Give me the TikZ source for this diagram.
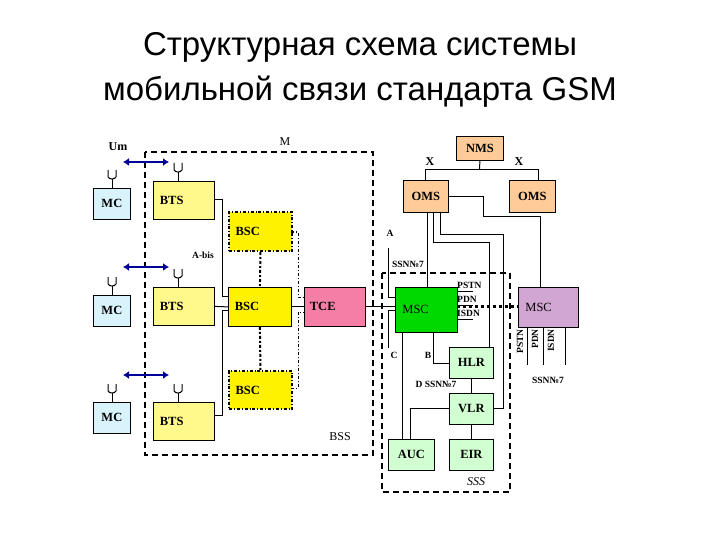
\documentclass[tikz,border=0pt]{standalone}
\usepackage{fontspec}
\usetikzlibrary{arrows.meta}
\setmainfont{Liberation Sans}
\newfontfamily\dserif{Liberation Serif}
\begin{document}
\begin{tikzpicture}[x=1pt,y=-1pt,
 box/.style={draw,line width=0.8pt,inner sep=0pt,font=\dserif\bfseries\fontsize{12.5}{14}\selectfont},
 lab/.style={font=\dserif\bfseries\fontsize{9.5}{11}\selectfont,inner sep=1pt},
 bigl/.style={font=\dserif\bfseries\fontsize{12}{14}\selectfont,inner sep=1pt},
 ln/.style={line width=1pt},
 dsh/.style={line width=2.2pt,dash pattern=on 6pt off 4pt}]
\useasboundingbox[fill=white] (0,0) rectangle (720,540);
\node[font=\fontsize{33}{45}\selectfont,align=center] (title) at (360,70) {Структурная схема системы\\мобильной связи стандарта GSM};
% BSS dashed
\draw[dsh] (145,152) rectangle (373,455);
\node[bigl,font=\dserif\fontsize{12}{14}\selectfont] (M) at (285,142) {M};
\node[bigl] (Um) at (118,147) {Um};
\node[bigl,font=\dserif\fontsize{12}{14}\selectfont] (BSS) at (340,437) {BSS};
\node[lab] (abis) at (203,255) {A-bis};
% SSS dashed
\draw[dsh] (382,273) rectangle (510,492);
\node[bigl,font=\dserif\itshape\fontsize{12}{14}\selectfont] (SSS) at (476,482) {SSS};
% MC, BTS
\foreach \i/\ya/\yb/\ybt in {1/188/219/181, 2/295/326/287, 3/402/432/402}{
 \node[box,fill=cyan!15,minimum width=37pt,minimum height=31pt,anchor=north west,align=left] (mc\i) at (93,\ya) {MC};
 \node[box,fill=yellow!45,minimum width=61pt,minimum height=38pt,anchor=north west,text width=48pt,align=left] (bts\i) at (153,\ybt) {BTS};
}
\foreach \i/\y in {1/188,2/295,3/402}{
 \draw[ln] (112,\y) -- (112,\y-9) coordinate (am\i);
 \draw[ln] (108,\y-18) -- (108,\y-11) to[bend right=60] (116,\y-11) -- (116,\y-18);
}
\foreach \i/\y in {1/181,2/287,3/402}{
 \draw[ln] (178,\y) -- (178,\y-9) coordinate (ab\i);
 \draw[ln] (174,\y-18) -- (174,\y-11) to[bend right=60] (182,\y-11) -- (182,\y-18);
}
\foreach \i/\y in {1/162,2/267,3/375}{
 \coordinate (ua\i) at (123,\y); \coordinate (ub\i) at (169,\y);
 \draw[line width=2.5pt,blue!60!black,<->,>={Latex[length=6pt,width=8pt]}] (ua\i) -- (ub\i);
}
% BSCs
\node[box,fill=yellow,minimum width=63pt,minimum height=39pt,anchor=north west,dash dot,line width=2pt,text width=50pt,align=left] (bsc1) at (228,211) {BSC};
\node[box,fill=yellow,minimum width=63pt,minimum height=39pt,anchor=north west,text width=50pt,align=left] (bsc2) at (228,287) {BSC};
\node[box,fill=yellow,minimum width=63pt,minimum height=38pt,anchor=north west,dash dot,line width=2pt,text width=50pt,align=left] (bsc3) at (228,370) {BSC};
\node[box,fill=magenta!35!pink,minimum width=61pt,minimum height=39pt,anchor=north west,text width=50pt,align=left] (tce) at (304,287) {TCE};
\draw[ln] (214,200) -- (222,200) -- (222,296) -- (228,296);
\draw[ln] (bts2.east) -- (bsc2.west);
\draw[ln] (214,415) -- (222,415) -- (222,310) -- (228,310);
\draw[ln] (bsc2.east) -- (tce.west);
\draw[line width=2pt,dash dot] (bsc1.south) -- (bsc2.north);
\draw[line width=2pt,dash dot] (bsc2.south) -- (bsc3.north);
\draw[line width=1pt,dash dot] (291,232) -- (298,232) -- (298,297) -- (304,297);
\draw[line width=1pt,dash dot] (291,388) -- (298,388) -- (298,312) -- (304,312);
% right part
\node[box,fill=orange!40,minimum width=47pt,minimum height=24pt,anchor=north west] (nms) at (456,136) {NMS};
\node[box,fill=orange!40,minimum width=45pt,minimum height=32pt,anchor=north west] (oms1) at (403,180) {OMS};
\node[box,fill=orange!40,minimum width=46pt,minimum height=32pt,anchor=north west] (oms2) at (509,180) {OMS};
\draw[ln] (nms.south) -- (479.5,170) coordinate (t0);
\draw[ln] (425,180) -- (425,170) -- (538,170) -- (538,180);
\node[bigl] (x1) at (430,162) {X};
\node[bigl] (x2) at (519,162) {X};
\node[box,fill=green!85!black,minimum width=62pt,minimum height=45pt,anchor=north west,text width=48pt,align=left,font=\dserif\fontsize{12.5}{14}\selectfont] (msc) at (395,287) {MSC};
\node[box,fill=violet!35,minimum width=60pt,minimum height=40pt,anchor=north west,text width=46pt,align=left,font=\dserif\fontsize{12.5}{14}\selectfont] (msc2) at (518,287) {MSC};
\node[box,fill=green!18,minimum width=44pt,minimum height=31pt,anchor=north west] (hlr) at (449,347) {HLR};
\node[box,fill=green!18,minimum width=44pt,minimum height=31pt,anchor=north west] (vlr) at (449,393) {VLR};
\node[box,fill=green!18,minimum width=46pt,minimum height=31pt,anchor=north west] (auc) at (388,439) {AUC};
\node[box,fill=green!18,minimum width=44pt,minimum height=31pt,anchor=north west] (eir) at (449,439) {EIR};
\draw[ln] (tce.east) -- (msc.west|-tce.east);
\draw[line width=3pt,dash pattern=on 3pt off 3pt] (457,306) -- (msc2.west|-457,306);
% A and C brackets
\draw[ln] (388,248) -- (388,297) -- (395,297);
\draw[ln] (395,310) -- (388,310) -- (388,348);
\node[lab] (A) at (390,233) {A};
\node[lab] (C) at (394,355) {C};
\node[lab] (ss1) at (408,264) {SSN№7};
\node[lab] (B) at (428,355) {B};
\node[lab] (D) at (436,384) {D SSN№7};
% PSTN labels
\foreach \t/\y in {PSTN/285,PDN/299,ISDN/313}{
 \node[lab,anchor=west] (l\t) at (456,\y) {\t};
 \draw[ln] (457,\y+6) -- (473,\y+6);
}
\foreach \t/\x/\lx in {PSTN/520/527,PDN/535/543,ISDN/551/565}{
 \node[lab,rotate=90,anchor=east] (v\t) at (\x,328) {\t};
 \draw[ln] (\lx,327) -- (\lx,365);
}
\node[lab] (ss2) at (548,380) {SSN№7};
% OMS connections
\draw[ln] (427,212) -- (427,287);
\draw[ln] (433,212) -- (433,242) -- (489,242) -- (489,347);
\draw[ln] (440,212) -- (440,234) -- (503,234) -- (503,408) -- (493,408);
\draw[ln] (448,197) -- (483,197) -- (483,217) -- (540,217) -- (540,287);
\draw[ln] (433,332) -- (433,363) -- (449,363);
\draw[ln] (402,332) -- (402,439);
\draw[ln] (449,408) -- (410,408) -- (410,439);
\draw[ln] (hlr.south) -- (vlr.north);
\draw[ln] (vlr.south) -- (eir.north);
\end{tikzpicture}
\end{document}
